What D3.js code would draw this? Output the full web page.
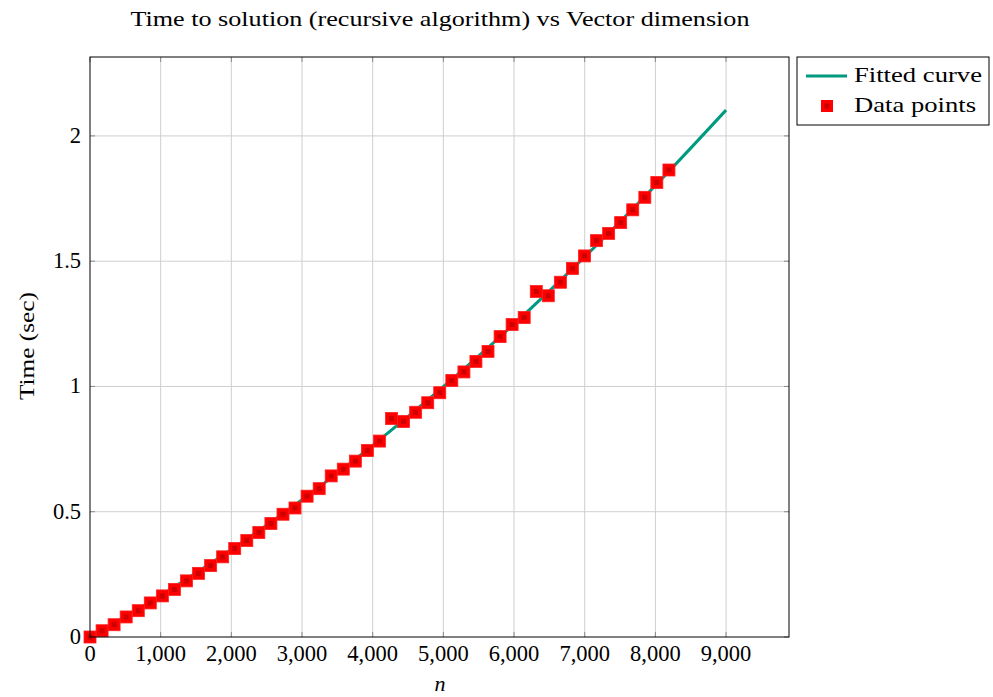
<!DOCTYPE html>
<html><head><meta charset="utf-8">
<script src="https://cdn.jsdelivr.net/npm/d3@7"></script>
<style>body{margin:0;background:#fff}text{font-family:"Liberation Serif",serif;fill:#000}</style>
</head><body><svg id="c" width="993" height="697"></svg>
<script>
const title = "Time to solution (recursive algorithm) vs Vector dimension";
const xLabel = "n";
const yLabel = "Time (sec)";
const xTicks = [0,1000,2000,3000,4000,5000,6000,7000,8000,9000];
const yTicks = [0,0.5,1,1.5,2];
const yTickLabels = ["0","0.5","1","1.5","2"];
const pointN = [0,171,341,512,683,853,1024,1195,1365,1536,1707,1877,2048,2219,2389,2560,2731,2901,3072,3243,3413,3584,3755,3925,4096,4267,4437,4608,4779,4949,5120,5291,5461,5632,5803,5973,6144,6315,6485,6656,6827,6997,7168,7339,7509,7680,7851,8021,8192];
const pointT = [0,0.025,0.049,0.08,0.105,0.136,0.164,0.19,0.224,0.254,0.285,0.32,0.353,0.385,0.417,0.453,0.49,0.515,0.562,0.592,0.643,0.670,0.702,0.744,0.782,0.872,0.860,0.897,0.935,0.975,1.024,1.058,1.100,1.140,1.199,1.247,1.275,1.379,1.362,1.416,1.471,1.521,1.582,1.611,1.654,1.705,1.755,1.814,1.864];
const fitN = [0,1000,2000,3000,4000,5000,6000,7000,8000,9000];
const fitT = [0,0.166,0.349,0.548,0.765,0.999,1.249,1.517,1.802,2.103];
const legendLabels = ["Fitted curve","Data points"];

const svg = d3.select("#c");
const L=90,R=789,T=57,B=637;
const x = d3.scaleLinear().domain([0,9891]).range([L,R]);
const y = d3.scaleLinear().domain([0,2.315]).range([B,T]);

// grid
const g = svg.append("g");
g.selectAll(".gx").data(xTicks.slice(1)).join("line").attr("x1",d=>x(d)).attr("x2",d=>x(d)).attr("y1",T).attr("y2",B).attr("stroke","#cfcfcf").attr("stroke-width",1);
g.selectAll(".gy").data(yTicks.slice(1)).join("line").attr("x1",L).attr("x2",R).attr("y1",d=>y(d)).attr("y2",d=>y(d)).attr("stroke","#cfcfcf").attr("stroke-width",1);
// tick marks inward
const tk = svg.append("g").attr("stroke","#8a8a8a").attr("stroke-width",1);
xTicks.forEach(d=>{tk.append("line").attr("x1",x(d)).attr("x2",x(d)).attr("y1",B).attr("y2",B-5);tk.append("line").attr("x1",x(d)).attr("x2",x(d)).attr("y1",T).attr("y2",T+5);});
yTicks.forEach(d=>{tk.append("line").attr("x1",L).attr("x2",L+5).attr("y1",y(d)).attr("y2",y(d));tk.append("line").attr("x1",R).attr("x2",R-5).attr("y1",y(d)).attr("y2",y(d));});

// fitted line
const line = d3.line().x((d,i)=>x(fitN[i])).y((d,i)=>y(fitT[i])).curve(d3.curveMonotoneX);
svg.append("path").datum(fitN).attr("d",line).attr("fill","none").attr("stroke","#009a80").attr("stroke-width",3);

// points
const pts = svg.append("g");
pointN.forEach((n,i)=>{
  pts.append("rect").attr("x",x(n)-6).attr("y",y(pointT[i])-6).attr("width",12).attr("height",12).attr("fill","#ff0000").attr("stroke","#ff2020").attr("stroke-width",0.8);
});
pointN.forEach((n,i)=>{
  pts.append("rect").attr("x",x(n)-2.5).attr("y",y(pointT[i])-2.5).attr("width",5).attr("height",5).attr("fill","#cc0000");
});

// frame
svg.append("rect").attr("x",L).attr("y",T).attr("width",R-L).attr("height",B-T).attr("fill","none").attr("stroke","#000").attr("stroke-width",1);

// tick labels
const fmt = d3.format(",");
svg.selectAll(".xl").data(xTicks).join("text").attr("x",d=>x(d)).attr("y",661).attr("text-anchor","middle").attr("font-size",22.5).text(d=>fmt(d));
svg.selectAll(".yl").data(yTicks).join("text").attr("x",81).attr("y",d=>y(d)+7).attr("text-anchor","end").attr("font-size",22.5).text((d,i)=>yTickLabels[i]);

// axis labels
svg.append("text").attr("x",440).attr("y",691).attr("text-anchor","middle").attr("font-size",22).attr("font-style","italic").text(xLabel);
svg.append("text").attr("transform","translate(34,346) rotate(-90)").attr("text-anchor","middle").attr("font-size",22).attr("textLength",108).attr("lengthAdjust","spacingAndGlyphs").text(yLabel);
svg.append("text").attr("x",440).attr("y",26).attr("text-anchor","middle").attr("font-size",22).attr("textLength",619).attr("lengthAdjust","spacingAndGlyphs").text(title);

// legend
const lg = svg.append("g");
lg.append("rect").attr("x",797).attr("y",57).attr("width",192).attr("height",68).attr("fill","#fff").attr("stroke","#000");
lg.append("line").attr("x1",806).attr("x2",847).attr("y1",76).attr("y2",76).attr("stroke","#009a80").attr("stroke-width",3);
lg.append("rect").attr("x",821).attr("y",100).attr("width",12).attr("height",12).attr("fill","#ff0000");
lg.append("rect").attr("x",824.5).attr("y",103.5).attr("width",5).attr("height",5).attr("fill","#cc0000");
const legendW = [128,122];
lg.selectAll(".lt").data(legendLabels).join("text").attr("x",854).attr("y",(d,i)=>82+i*30).attr("font-size",22).attr("textLength",(d,i)=>legendW[i]).attr("lengthAdjust","spacingAndGlyphs").text(d=>d);
</script></body></html>
